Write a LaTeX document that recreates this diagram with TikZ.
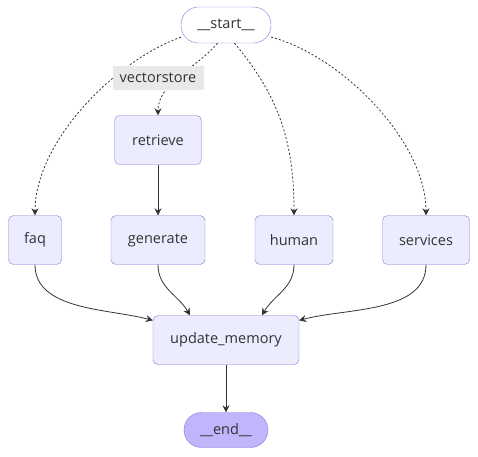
\documentclass[tikz,border=0pt]{standalone}
\usepackage{fontspec}
\setmainfont{Open Sans}
\usepackage{tikz}
\usetikzlibrary{arrows.meta,positioning}
\definecolor{nodefill}{HTML}{ECECFF}
\definecolor{nodeline}{HTML}{9370DB}
\definecolor{endfill}{HTML}{BFB6FC}
\definecolor{edgecol}{HTML}{333333}
\definecolor{labelfill}{HTML}{E8E8E8}
\begin{document}
\begin{tikzpicture}[x=1pt,y=-1pt,font=\fontsize{14.5}{17}\selectfont,text=edgecol,
  box/.style={draw=nodeline,fill=nodefill,rounded corners=5pt,minimum height=49pt,inner sep=0pt},
  pill/.style={draw=nodeline,rounded corners=17.5pt,minimum height=36pt,inner sep=0pt},
  edge/.style={draw=edgecol,line width=0.8pt,-{Stealth[length=7pt,width=7pt]}},
  dashedge/.style={edge,dash pattern=on 2pt off 2pt}]
\useasboundingbox (0,0) rectangle (478,456);
\node[pill,fill=white,minimum width=90pt] (start) at (226,25) {\_\_start\_\_};
\node[box,minimum width=87pt] (retrieve) at (158,140) {retrieve};
\node[box,minimum width=53pt] (faq) at (35,240) {faq};
\node[box,minimum width=94pt] (generate) at (158,240) {generate};
\node[box,minimum width=78pt] (human) at (294,240) {human};
\node[box,minimum width=87pt] (services) at (426,240) {services};
\node[box,minimum width=146pt] (update) at (226,340) {update\_memory};
\node[pill,fill=endfill,minimum width=84pt,minimum height=35pt] (end) at (226,430) {\_\_end\_\_};
\draw[dashedge]
(start.195) to[out=200,in=90,looseness=0.8] (faq.north);
\draw[dashedge] (start.245) to[out=230,in=90,looseness=0.9] (retrieve.north);
\node[fill=labelfill,minimum width=91pt,minimum height=24pt,inner sep=0pt] (vs) at (158,78) {vectorstore};
\draw[dashedge]
(start.295) to[out=-50,in=90] (human.north);
\draw[dashedge]
(start.-15) to[out=-15,in=90,looseness=0.8] (services.north);
\draw[edge] (retrieve) -- (generate);
\draw[edge] (faq.south) to[out=-90,in=165,looseness=0.9] (update.165);
\draw[edge] (generate.south) to[out=-90,in=120] ([xshift=-36pt]update.north);
\draw[edge] (human.south) to[out=-90,in=60] ([xshift=36pt]update.north);
\draw[edge] (services.south) to[out=-90,in=15,looseness=0.9] (update.15);
\draw[edge] (update) -- (end);
\end{tikzpicture}
\end{document}
